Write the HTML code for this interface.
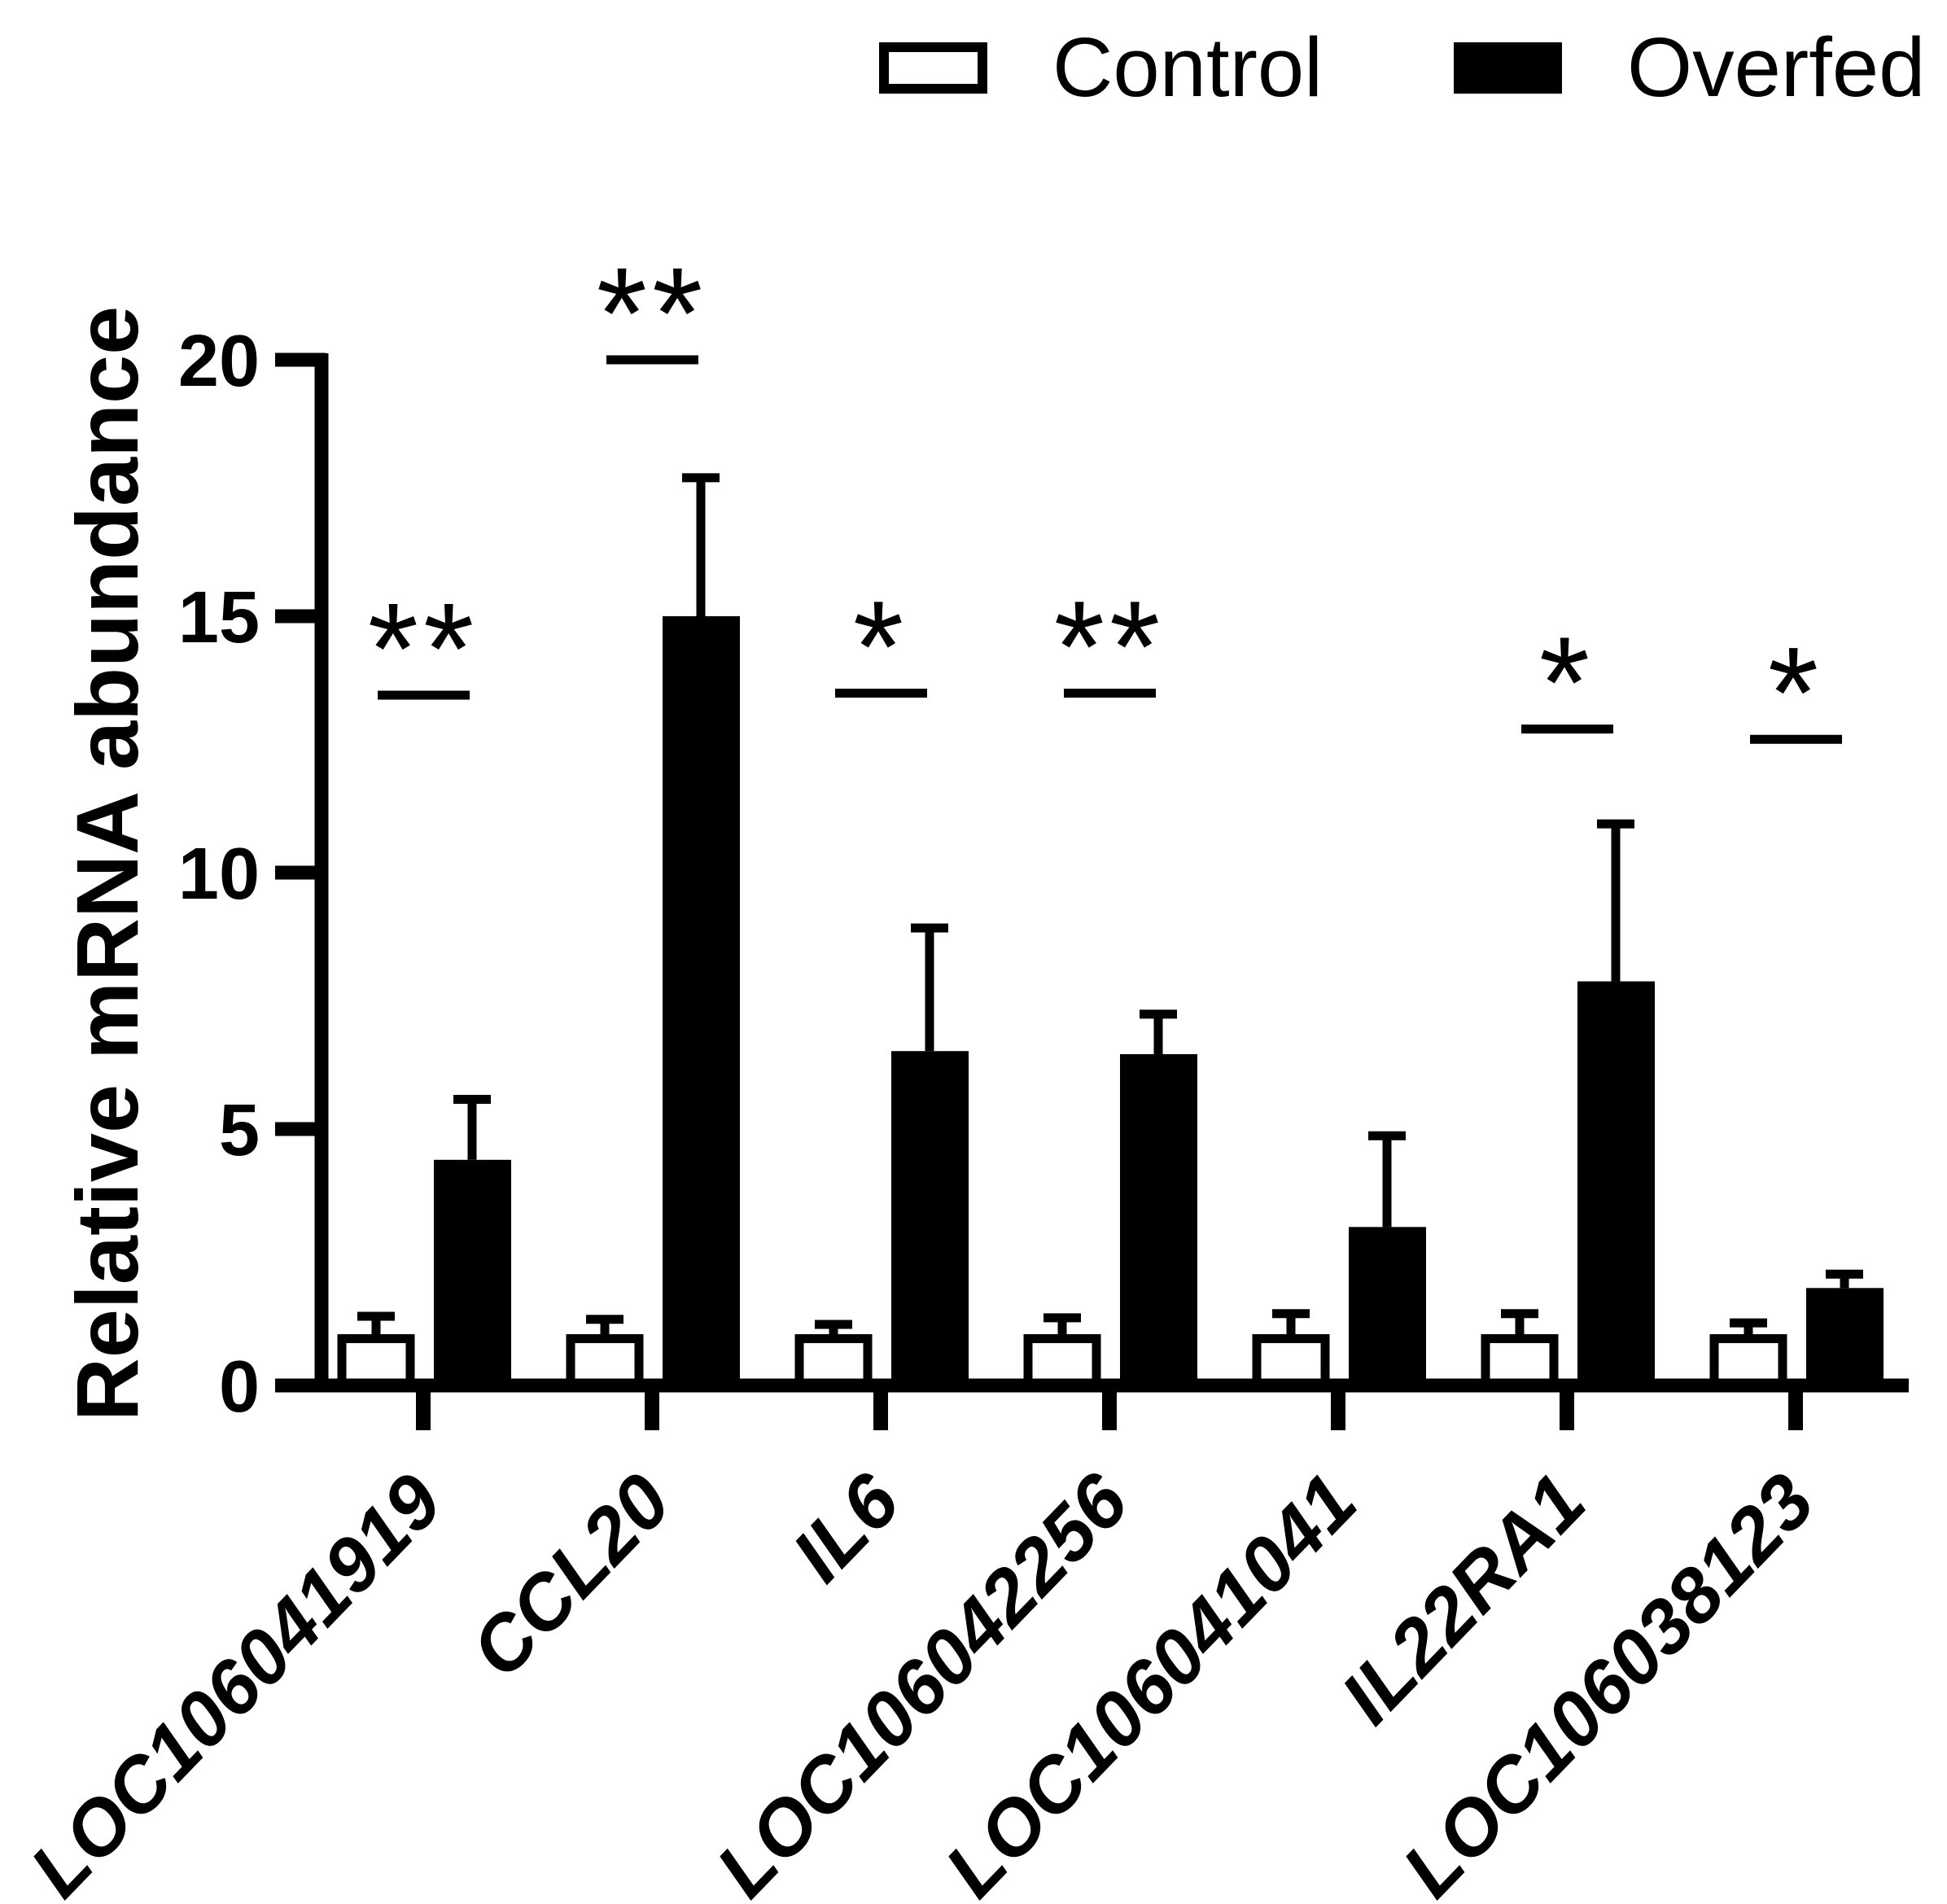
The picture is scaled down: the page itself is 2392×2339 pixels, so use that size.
<!DOCTYPE html>
<html><head><meta charset="utf-8"><style>
html,body{margin:0;padding:0;background:#fff;}
svg{display:block;font-family:"Liberation Sans",Arial,sans-serif;}
</style></head><body>
<svg id="chart" width="2392" height="2339" viewBox="0 0 2392 2339" xmlns="http://www.w3.org/2000/svg">
<g id="legend">
  <rect x="1086" y="58" width="121" height="51" fill="#fff" stroke="#000" stroke-width="12"/>
  <text x="1293" y="118" font-size="103">Control</text>
  <rect x="1786" y="52" width="133" height="63" fill="#000"/>
  <text x="1999" y="118" font-size="103">Overfed</text>
</g>
<text x="169" y="1061" font-size="108" font-weight="bold" text-anchor="middle" transform="rotate(-90 169 1061)">Relative mRNA abundance</text>
<g id="plot"></g>
</svg>
<script>
const categories = ["LOC106041919","CCL20","IL6","LOC106042256","LOC106041041","IL22RA1","LOC106038123"];
const controlMeans = [1, 1, 1, 1, 1, 1, 1];
const controlErr = [1.35, 1.29, 1.19, 1.32, 1.4, 1.4, 1.22];
const overfedMeans = [4.4, 15.0, 6.52, 6.46, 3.09, 7.88, 1.9];
const overfedErr = [5.58, 17.7, 8.92, 7.24, 4.87, 10.95, 2.17];
const sigLabels = ["**", "**", "*", "**", "", "*", "*"];
const sigLevels = [13.46, 20.0, 13.5, 13.5, 0, 12.8, 12.6];
const yTicks = [0, 5, 10, 15, 20];

const NS = "http://www.w3.org/2000/svg";
const g = document.getElementById('plot');
const y0 = 1702, yTop = 442, yMax = 20;
function yScale(v){ return y0 - (v / yMax) * (y0 - yTop); }
function xScale(i){ return 520 + i * 281; }
function mk(tag, attrs){ const e = document.createElementNS(NS, tag); for (const k in attrs) e.setAttribute(k, attrs[k]); g.appendChild(e); return e; }

categories.forEach((c, i) => {
  const cx = xScale(i);
  let e = mk('line', {x1: cx-58, x2: cx-58, y1: yScale(controlMeans[i]), y2: yScale(controlErr[i]), stroke: '#000', 'stroke-width': 11});
  
  
  e = mk('line', {x1: cx-81, x2: cx-35, y1: yScale(controlErr[i]), y2: yScale(controlErr[i]), stroke: '#000', 'stroke-width': 11});
  
  
  const ct = yScale(controlMeans[i]);
  e = mk('rect', {x: cx-58-42, y: ct+5.5, width: 84, height: y0 - ct - 5.5, fill: '#fff', stroke: '#000', 'stroke-width': 11});
  
  
  e = mk('line', {x1: cx+60, x2: cx+60, y1: yScale(overfedMeans[i]), y2: yScale(overfedErr[i]), stroke: '#000', 'stroke-width': 11});
  
  
  e = mk('line', {x1: cx+37, x2: cx+83, y1: yScale(overfedErr[i]), y2: yScale(overfedErr[i]), stroke: '#000', 'stroke-width': 11});
  
  
  const ot = yScale(overfedMeans[i]);
  e = mk('rect', {x: cx+60-47, y: ot, width: 95, height: y0 - ot, fill: '#000'});
  
  
  if (sigLabels[i]) {
    const ly = yScale(sigLevels[i]);
    e = mk('line', {x1: cx-56, x2: cx+57, y1: ly, y2: ly, stroke: '#000', 'stroke-width': 11});
    
    
    e = mk('text', {x: cx, y: ly-2, 'font-size': 160, 'text-anchor': 'middle', 'letter-spacing': 6});
    e.textContent = sigLabels[i];
    
    
  }
  e = mk('line', {x1: cx, x2: cx, y1: y0, y2: 1757, stroke: '#000', 'stroke-width': 18});
  
  
  e = mk('text', {x: cx+28, y: 1850, 'font-size': 95, 'font-weight': 'bold', 'font-style': 'italic', 'text-anchor': 'end', transform: 'rotate(-46 ' + (cx+28) + ' 1850)'});
  e.textContent = c;
  
  
});

let ax = mk('line', {x1: 395, x2: 395, y1: yTop - 8, y2: y0 + 8, stroke: '#000', 'stroke-width': 17});


ax = mk('line', {x1: 387, x2: 2345, y1: y0, y2: y0, stroke: '#000', 'stroke-width': 17});


yTicks.forEach(t => {
  const yy = yScale(t);
  let e = mk('line', {x1: 338, x2: 400, y1: yy, y2: yy, stroke: '#000', 'stroke-width': 17});
  
  
  e = mk('text', {x: 319, y: yy + 32, 'font-size': 90, 'font-weight': 'bold', 'text-anchor': 'end'});
  e.textContent = t;
  
  
});
</script>
</body></html>
